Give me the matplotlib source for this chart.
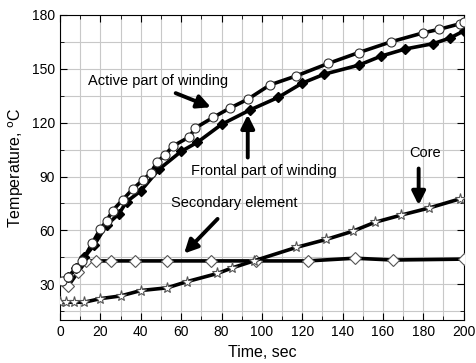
import matplotlib
matplotlib.use("Agg")
import matplotlib.pyplot as plt
from matplotlib.ticker import MultipleLocator

plt.rcParams['font.family'] = ['Liberation Sans', 'DejaVu Sans']

# Active part of winding (open circles)
active_x = [1, 4, 8, 11, 16, 20, 23, 26, 31, 36, 41, 45, 48, 52, 56, 64, 67, 76, 84, 93,
            104, 117, 133, 148, 164, 180, 188, 198, 200]
active_y = [32, 34, 39, 43, 53, 61, 65, 71, 77, 83, 88, 92, 98, 102, 107, 112, 117, 123, 128, 133,
            141, 146, 153, 159, 165, 170, 172, 175, 176]

# Frontal part of winding (filled diamonds)
frontal_x = [4, 8, 12, 17, 23, 29, 33, 40, 49, 60, 68, 80, 94, 108, 120, 131, 148, 159, 171, 185, 193, 200]
frontal_y = [34, 39, 45, 52, 63, 69, 76, 82, 94, 104, 109, 119, 127, 134, 142, 147, 152, 157, 161, 164, 167, 171]

# Secondary element (open diamonds)
secondary_x = [4, 9, 13, 18, 25, 37, 53, 75, 97, 123, 146, 165, 200]
secondary_y = [29, 37, 43, 43, 43, 43, 43, 43, 43, 43, 44.5, 43.5, 44]

# Core (open stars)
core_x = [0, 3, 7, 12, 20, 30, 40, 53, 63, 78, 85, 96, 117, 132, 145, 156, 169, 183, 198]
core_y = [20, 20, 20, 20, 22, 23.5, 26.5, 28, 31.5, 36, 39, 43, 50.5, 55, 59.5, 64.5, 68.5, 72.5, 77.5]

fig = plt.figure(figsize=(4.77, 3.63), dpi=100)
ax = fig.add_axes([0.126, 0.118, 0.846, 0.841])

lw = 2.6
ax.plot(secondary_x, secondary_y, '-', color='k', lw=lw, marker='D', ms=6,
        mfc='white', mec='#555555', mew=0.8, zorder=3)
ax.plot(core_x, core_y, '-', color='k', lw=lw, marker='*', ms=8,
        mfc='white', mec='#555555', mew=0.8, zorder=3)
ax.plot(frontal_x, frontal_y, '-', color='k', lw=lw, marker='D', ms=5.5,
        mfc='k', mec='k', zorder=4)
ax.plot(active_x, active_y, '-', color='k', lw=lw, marker='o', ms=6.5,
        mfc='white', mec='#333333', mew=0.8, zorder=4)

ax.set_xlim(0, 200)
ax.set_ylim(10, 180)
ax.xaxis.set_major_locator(MultipleLocator(20))
ax.xaxis.set_minor_locator(MultipleLocator(10))
ax.yaxis.set_major_locator(MultipleLocator(30))
ax.yaxis.set_minor_locator(MultipleLocator(15))
ax.grid(True, which='both', color='#c8c8c8', lw=0.8)
ax.set_axisbelow(True)
ax.tick_params(which='both', direction='in', top=True, right=True, labelsize=10)
ax.tick_params(which='major', length=5)
ax.tick_params(which='minor', length=3)

ax.set_xlabel('Time, sec', fontsize=11.5)
ax.set_ylabel('Temperature, $^{\\mathrm{o}}$C', fontsize=11.5)

arrow = dict(arrowstyle='-|>', color='k', lw=2.8, mutation_scale=20)
ax.annotate('', xy=(76, 128), xytext=(56, 137), arrowprops=arrow)
ax.text(48.5, 143, 'Active part of winding', fontsize=10.5, ha='center', va='center')
ax.annotate('', xy=(93, 126), xytext=(93, 99), arrowprops=arrow)
ax.text(101, 93, 'Frontal part of winding', fontsize=10.5, ha='center', va='center')
ax.annotate('', xy=(60.5, 46), xytext=(79, 67.5), arrowprops=arrow)
ax.text(86.5, 75, 'Secondary element', fontsize=10.5, ha='center', va='center')
ax.annotate('', xy=(177.7, 72.5), xytext=(177.7, 96), arrowprops=arrow)
ax.text(181, 103, 'Core', fontsize=10.5, ha='center', va='center')

fig.savefig('out.png', dpi=100)
